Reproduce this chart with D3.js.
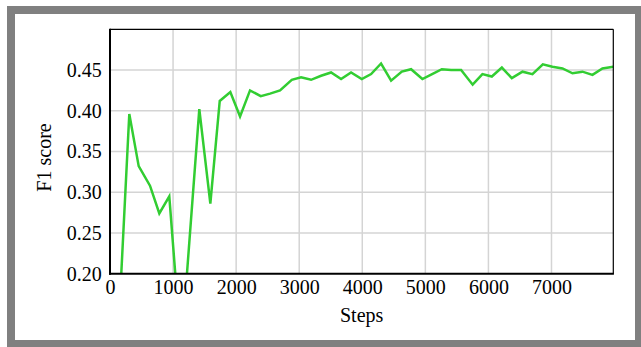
<!DOCTYPE html>
<html>
<head>
<meta charset="utf-8">
<script src="https://cdn.jsdelivr.net/npm/d3@7"></script>
<style>
  html, body { margin: 0; padding: 0; background: #fff; }
  svg { display: block; }
  text { font-family: "Liberation Serif", "Times New Roman", serif; fill: #000; }
</style>
</head>
<body>
<svg id="chart" width="641" height="347"></svg>
<script>
// Evaluation steps and F1 score at each step
const steps = [160, 306, 455, 634, 782, 940, 1129, 1416, 1591, 1740,
  1908, 2062, 2220, 2390, 2538, 2696, 2882, 3029, 3188, 3347,
  3505, 3664, 3822, 3992, 4140, 4298, 4457, 4627, 4774, 4953,
  5107, 5261, 5409, 5567, 5750, 5905, 6054, 6213, 6371, 6540,
  6698, 6863, 7015, 7174, 7333, 7491, 7650, 7808, 7980];
const f1 = [0.171, 0.396, 0.332, 0.308, 0.274, 0.295, 0.106, 0.402, 0.286, 0.412,
  0.423, 0.393, 0.425, 0.418, 0.421, 0.425, 0.438, 0.441, 0.438, 0.443,
  0.447, 0.439, 0.447, 0.439, 0.445, 0.458, 0.437, 0.448, 0.451, 0.439,
  0.445, 0.451, 0.450, 0.450, 0.432, 0.445, 0.442, 0.453, 0.440, 0.448,
  0.445, 0.457, 0.454, 0.452, 0.446, 0.448, 0.444, 0.452, 0.454];

const xTicks = [0, 1000, 2000, 3000, 4000, 5000, 6000, 7000];
const yTicks = [0.20, 0.25, 0.30, 0.35, 0.40, 0.45];
const yDomain = [0.2, 0.5];

const FONT = "'Liberation Serif', 'Times New Roman', serif";

const svg = d3.select("#chart");

// outer grey frame
svg.append("rect").attr("x", 7).attr("y", 6).attr("width", 640).attr("height", 345).attr("fill", "#808080");
svg.append("rect").attr("x", 15).attr("y", 14).attr("width", 620).attr("height", 326).attr("fill", "#fff");

const plotLeft = 110, plotRight = 613.3, plotTop = 29.3, plotBottom = 273.7;

const x = d3.scaleLinear().domain([0, d3.max(steps)]).range([plotLeft, plotRight]);
const y = d3.scaleLinear().domain(yDomain).range([plotBottom, plotTop]);

// grid
const grid = svg.append("g").attr("stroke", "#d4d4d4").attr("stroke-width", 1.5);
grid.selectAll("line.v").data(xTicks.slice(1)).join("line")
  .attr("x1", d => x(d)).attr("x2", d => x(d))
  .attr("y1", plotTop).attr("y2", plotBottom);
grid.selectAll("line.h").data(yTicks.slice(1)).join("line")
  .attr("x1", plotLeft).attr("x2", plotRight)
  .attr("y1", d => y(d)).attr("y2", d => y(d));

// data line, clipped to the plot area
svg.append("clipPath").attr("id", "plot-clip")
  .append("rect").attr("x", plotLeft).attr("y", plotTop)
  .attr("width", plotRight - plotLeft).attr("height", plotBottom - plotTop);

const data = steps.map((s, i) => [s, f1[i]]);
svg.append("path")
  .datum(data)
  .attr("clip-path", "url(#plot-clip)")
  .attr("fill", "none")
  .attr("stroke", "#32cd32")
  .attr("stroke-width", 2.5)
  .attr("stroke-linejoin", "miter")
  .attr("d", d3.line().x(d => x(d[0])).y(d => y(d[1])));

// frame: thin top/right, heavier left/bottom axes
svg.append("line").attr("x1", plotLeft).attr("x2", plotRight).attr("y1", plotTop).attr("y2", plotTop)
  .attr("stroke", "#000").attr("stroke-width", 1.2);
svg.append("line").attr("x1", plotRight).attr("x2", plotRight).attr("y1", plotTop).attr("y2", plotBottom)
  .attr("stroke", "#000").attr("stroke-width", 1.2);

// axes
const xAxis = svg.append("g")
  .attr("transform", `translate(0,${plotBottom})`)
  .call(d3.axisBottom(x).tickValues(xTicks).tickSize(0).tickPadding(6).tickFormat(d3.format("d")));
const yAxis = svg.append("g")
  .attr("transform", `translate(${plotLeft},0)`)
  .call(d3.axisLeft(y).tickValues(yTicks).tickSize(0).tickPadding(8.3).tickFormat(d3.format(".2f")));

[xAxis, yAxis].forEach(g => {
  g.attr("font-family", FONT).attr("font-size", 20);
  g.select(".domain").remove();
  g.selectAll("text")
    .attr("font-family", FONT)
    .attr("font-size", 20)
    .attr("fill", "#000");
});

svg.append("line").attr("x1", plotLeft).attr("x2", plotLeft).attr("y1", plotTop - 0.6).attr("y2", plotBottom + 1)
  .attr("stroke", "#000").attr("stroke-width", 2);
svg.append("line").attr("x1", plotLeft - 1).attr("x2", plotRight + 0.6).attr("y1", plotBottom).attr("y2", plotBottom)
  .attr("stroke", "#000").attr("stroke-width", 2);

// axis titles
svg.append("text")
  .attr("x", (plotLeft + plotRight) / 2).attr("y", 321.7)
  .attr("text-anchor", "middle")
  .attr("font-family", FONT)
  .attr("font-size", 20)
  .text("Steps");
svg.append("text")
  .attr("transform", "translate(50.5,157.5) rotate(-90)")
  .attr("text-anchor", "middle")
  .attr("font-family", FONT)
  .attr("font-size", 20)
  .text("F1 score");
</script>
</body>
</html>
